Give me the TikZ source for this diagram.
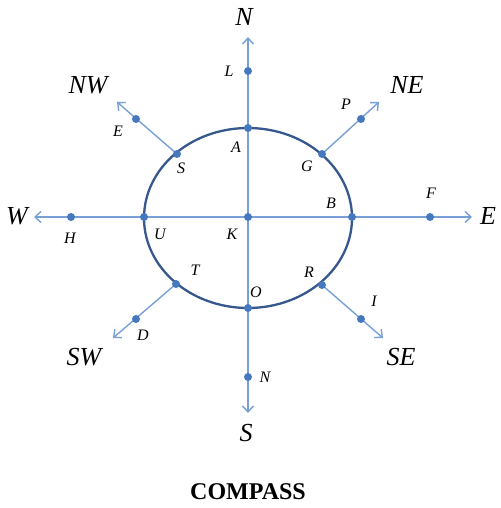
\documentclass[tikz,border=0pt]{standalone}
\usepackage{fontspec}
\setmainfont{Liberation Serif}
\usetikzlibrary{arrows.meta}
\definecolor{axisblue}{RGB}{120,160,215}
\definecolor{ringblue}{RGB}{55,88,140}
\definecolor{dotblue}{RGB}{70,120,190}
\tikzset{
  axis/.style={draw=axisblue, line width=1.4pt, -{Straight Barb[length=6pt,width=11pt]}},
  ring/.style={draw=ringblue, line width=2.3pt},
  pt/.style={circle, fill=dotblue, inner sep=0pt, minimum size=8pt},
  lab/.style={font=\fontsize{16}{16}\selectfont\itshape, inner sep=0pt},
  big/.style={font=\fontsize{26}{26}\selectfont\itshape, inner sep=0pt},
}
\begin{document}
\begin{tikzpicture}[x=1pt,y=-1pt]
\useasboundingbox (0,0) rectangle (500,508);
\fill[white] (0,0) rectangle (500,508);
% end coordinates
\coordinate (tipN) at (248,37);
\coordinate (tipS) at (248,413);
\coordinate (tipW) at (34,217);
\coordinate (tipE) at (472,217);
\coordinate (tipNW) at (117,102);
\coordinate (tipNE) at (379,102);
\coordinate (tipSW) at (113,338);
\coordinate (tipSE) at (383,338);
\coordinate (ctr) at (248,217);
% axes
\draw[axis] (ctr) -- (tipN);
\draw[axis] (ctr) -- (tipS);
\draw[axis] (ctr) -- (tipW);
\draw[axis] (ctr) -- (tipE);
% diagonal rays
\coordinate (S) at (177,154);
\coordinate (G) at (322,154);
\coordinate (T) at (176,284);
\coordinate (R) at (322,285);
\draw[axis] (S) -- (tipNW);
\draw[axis] (G) -- (tipNE);
\draw[axis] (T) -- (tipSW);
\draw[axis] (R) -- (tipSE);
% ellipse
\draw[ring] (248,218) ellipse [x radius=104, y radius=90];
% points
\node[pt] (K) at (ctr) {};
\node[pt] (A) at (248,128) {};
\node[pt] (O) at (248,308) {};
\node[pt] (U) at (144,217) {};
\node[pt] (B) at (352,217) {};
\node[pt] (L) at (248,71) {};
\node[pt] (Nd) at (248,377) {};
\node[pt] (H) at (71,217) {};
\node[pt] (F) at (430,217) {};
\node[pt] (Ed) at (136,119) {};
\node[pt] (P) at (361,119) {};
\node[pt] (D) at (136,319) {};
\node[pt] (I) at (361,319) {};
\node[pt] (Sd) at (S) {};
\node[pt] (Gd) at (G) {};
\node[pt] (Td) at (T) {};
\node[pt] (Rd) at (R) {};
% point labels
\node[lab] (lL) at (229,71) {L};
\node[lab] (lP) at (346,104) {P};
\node[lab] (lE) at (118,131) {E};
\node[lab] (lA) at (236,147) {A};
\node[lab] (lS) at (181,168) {S};
\node[lab] (lG) at (307,166) {G};
\node[lab] (lB) at (331,203) {B};
\node[lab] (lF) at (431,193) {F};
\node[lab] (lH) at (70,238) {H};
\node[lab] (lU) at (160,234) {U};
\node[lab] (lK) at (232,234) {K};
\node[lab] (lT) at (195,270) {T};
\node[lab] (lR) at (309,272) {R};
\node[lab] (lO) at (256,292) {O};
\node[lab] (lI) at (374,301) {I};
\node[lab] (lD) at (143,335) {D};
\node[lab] (lN) at (265,377) {N};
% direction labels
\node[big] (dN) at (244,17) {N};
\node[big] (dS) at (246,433) {S};
\node[big] (dW) at (17,216) {W};
\node[big] (dE) at (488,216) {E};
\node[big] (dNW) at (88,85) {NW};
\node[big] (dNE) at (407,85) {NE};
\node[big] (dSW) at (84,357) {SW};
\node[big] (dSE) at (401,357) {SE};
% title
\node[font=\fontsize{24}{24}\selectfont\bfseries, inner sep=0pt] (title) at (248,492) {COMPASS};
\end{tikzpicture}
\end{document}
